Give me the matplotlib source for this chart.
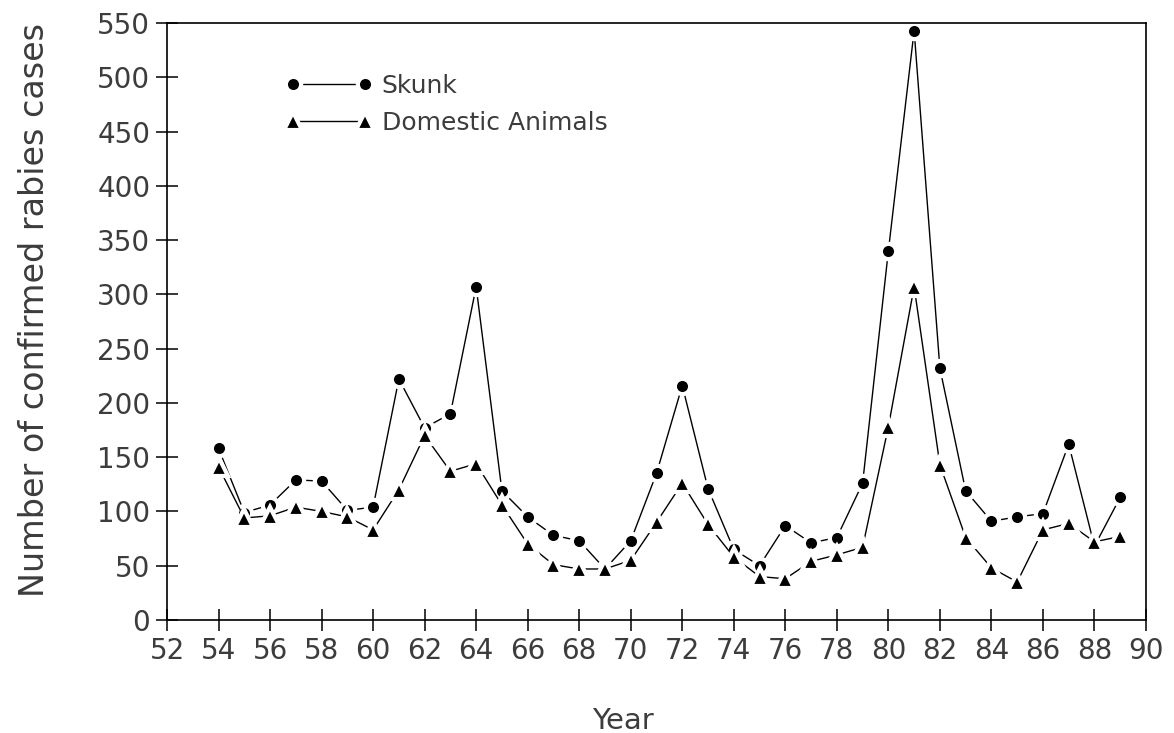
import numpy as np
import matplotlib.pyplot as plt

years = list(range(54, 90))
skunk = [158, 99, 106, 129, 128, 101, 104, 222, 177, 190, 307, 119, 95, 78, 73, 47,
         73, 135, 216, 121, 65, 50, 87, 71, 76, 126, 340, 543, 232, 119, 91, 95,
         98, 162, 68, 113]
domestic = [141, 94, 96, 104, 100, 95, 83, 120, 170, 137, 144, 106, 70, 51, 47, 47,
            55, 90, 126, 88, 58, 40, 38, 54, 60, 67, 178, 307, 143, 76, 48, 35,
            83, 89, 72, 77]

plt.rcParams['font.family'] = ['DejaVu Sans']
text_color = '#3c3c3c'

fig = plt.figure(figsize=(11.74, 7.33), dpi=100)
ax = fig.add_axes([167 / 1174, 1 - 620 / 733, (1146 - 167) / 1174, (620 - 23) / 733])

# white marker edges leave small gaps where the line meets each point
line_kw = dict(color='black', linewidth=1.0, markeredgecolor='white',
               markeredgewidth=3, clip_on=False)
ax.plot(years, skunk, marker='o', markersize=11, label='Skunk', **line_kw)
ax.plot(years, domestic, marker='^', markersize=13, label='Domestic Animals', **line_kw)

ax.set_xlim(52, 90)
ax.set_ylim(0, 550)
ax.set_xticks(range(52, 91, 2))
ax.set_yticks(range(0, 551, 50))

for s in ax.spines.values():
    s.set_linewidth(1.2)
ax.tick_params(direction='inout', length=16, width=1.1, labelsize=20,
               labelcolor=text_color, pad=4)

ax.set_xlabel('Year', fontsize=21, color=text_color)
ax.xaxis.set_label_coords(0.466, -0.145)
ax.set_ylabel('Number of confirmed rabies cases', fontsize=24, color=text_color)
ax.yaxis.set_label_coords(-0.118, 0.52)

leg = ax.legend(loc='upper left', bbox_to_anchor=(0.098, 0.952), frameon=False, numpoints=2,
                handlelength=3.5, handletextpad=0.35, fontsize=18, labelspacing=0.5)
for t in leg.get_texts():
    t.set_color(text_color)

fig.savefig('out.png', dpi=100)
